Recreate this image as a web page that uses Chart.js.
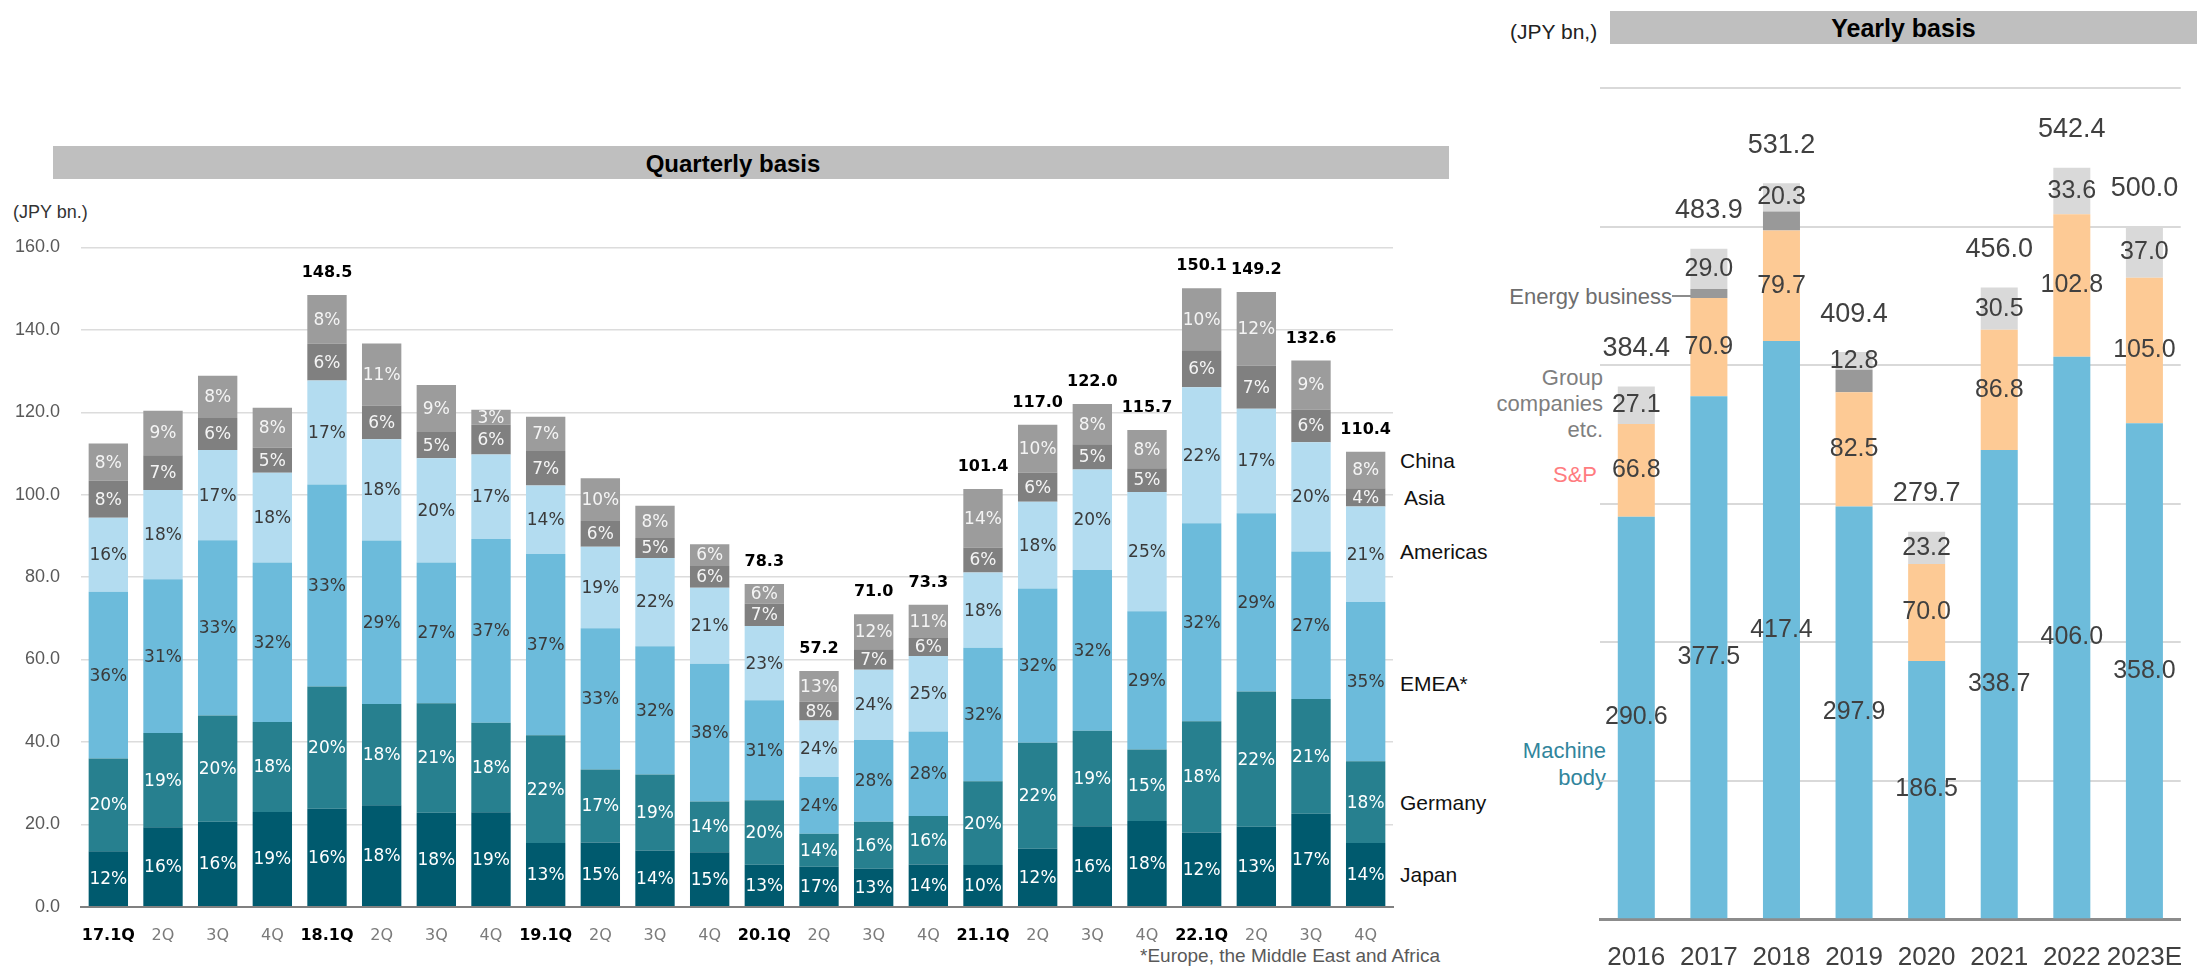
<!DOCTYPE html>
<html>
<head>
<meta charset="utf-8">
<script src="https://cdn.jsdelivr.net/npm/chart.js"></script>
<style>
  html, body { margin: 0; padding: 0; background: #fff; }
  #page { position: relative; width: 2197px; height: 966px; overflow: hidden; font-family: "Liberation Sans", Arial, sans-serif; }
  canvas { position: absolute; top: 0; }
  .t { position: absolute; white-space: nowrap; transform: translateY(-50%); line-height: 1; }
  .band { position: absolute; background: #bfbfbf; text-align: center; font-weight: bold; color: #000; box-sizing: border-box; }
  .r { text-align: right; }
</style>
</head>
<body>
<div id="page">
  <div class="band" style="left:53px;top:146px;width:1396px;height:33px;line-height:35px;font-size:24px;padding-right:36px;">Quarterly basis</div>
  <div class="band" style="left:1610px;top:11px;width:587px;height:33px;line-height:35px;font-size:25px;">Yearly basis</div>
  <div class="t" style="left:13px;top:212px;font-size:18px;color:#333;">(JPY bn.)</div>
  <div class="t" style="left:1510px;top:31px;font-size:21px;color:#222;">(JPY bn,)</div>

  <!-- region names beside the quarterly bars -->
  <div class="t" style="left:1400px;top:460px;font-size:21px;color:#111;">China</div>
  <div class="t" style="left:1404px;top:497px;font-size:21px;color:#111;">Asia</div>
  <div class="t" style="left:1400px;top:551px;font-size:21px;color:#111;">Americas</div>
  <div class="t" style="left:1400px;top:683px;font-size:21px;color:#111;">EMEA*</div>
  <div class="t" style="left:1400px;top:802px;font-size:21px;color:#111;">Germany</div>
  <div class="t" style="left:1400px;top:874px;font-size:21px;color:#111;">Japan</div>
  <div class="t" style="left:1140px;top:955px;font-size:19px;color:#595959;">*Europe, the Middle East and Africa</div>

  <!-- business names beside the yearly bars -->
  <div class="t r" style="left:1472px;width:200px;top:297px;font-size:22px;color:#6e6e6e;">Energy business</div>
  <div style="position:absolute;left:1672px;top:295px;width:32px;border-top:2px solid #8c8c8c;"></div>
  <div class="r" style="position:absolute;left:1403px;width:200px;top:365px;font-size:22px;line-height:26px;color:#7f7f7f;">Group<br>companies<br>etc.</div>
  <div class="t r" style="left:1497px;width:100px;top:475px;font-size:22px;color:#ff7c80;">S&amp;P</div>
  <div class="r" style="position:absolute;left:1406px;width:200px;top:737px;font-size:22px;line-height:27px;color:#31859c;">Machine<br>body</div>

  <canvas id="quarterly" width="1460" height="966" style="left:0;"></canvas>
  <canvas id="yearly" width="737" height="966" style="left:1460px;"></canvas>
</div>
<script>
// Quarterly orders (JPY bn.) and regional shares (%)
var quarters = ['17.1Q', '2Q', '3Q', '4Q', '18.1Q', '2Q', '3Q', '4Q',
                '19.1Q', '2Q', '3Q', '4Q', '20.1Q', '2Q', '3Q', '4Q',
                '21.1Q', '2Q', '3Q', '4Q', '22.1Q', '2Q', '3Q', '4Q'];
var qTotals = [112.4, 120.4, 128.9, 121.1, 148.5, 136.7, 126.6, 120.6,
               118.9, 104.0, 97.3, 88.0, 78.3, 57.2, 71.0, 73.3,
               101.4, 117.0, 122.0, 115.7, 150.1, 149.2, 132.6, 110.4];
var qTotalShown = [false, false, false, false, true, false, false, false,
                   false, false, false, false, true, true, true, true,
                   true, true, true, true, true, true, true, true];
var shareJapan    = [12, 16, 16, 19, 16, 18, 18, 19, 13, 15, 14, 15, 13, 17, 13, 14, 10, 12, 16, 18, 12, 13, 17, 14];
var shareGermany  = [20, 19, 20, 18, 20, 18, 21, 18, 22, 17, 19, 14, 20, 14, 16, 16, 20, 22, 19, 15, 18, 22, 21, 18];
var shareEmea     = [36, 31, 33, 32, 33, 29, 27, 37, 37, 33, 32, 38, 31, 24, 28, 28, 32, 32, 32, 29, 32, 29, 27, 35];
var shareAmericas = [16, 18, 17, 18, 17, 18, 20, 17, 14, 19, 22, 21, 23, 24, 24, 25, 18, 18, 20, 25, 22, 17, 20, 21];
var shareAsia     = [8, 7, 6, 5, 6, 6, 5, 6, 7, 6, 5, 6, 7, 8, 7, 6, 6, 6, 5, 5, 6, 7, 6, 4];
var shareChina    = [8, 9, 8, 8, 8, 11, 9, 3, 7, 10, 8, 6, 6, 13, 12, 11, 14, 10, 8, 8, 10, 12, 9, 8];
var qTicks = [0, 20, 40, 60, 80, 100, 120, 140, 160];

// Yearly orders (JPY bn.)
var years = ['2016', '2017', '2018', '2019', '2020', '2021', '2022', '2023E'];
var machineBody = [290.6, 377.5, 417.4, 297.9, 186.5, 338.7, 406.0, 358.0];
var sAndP       = [66.8, 70.9, 79.7, 82.5, 70.0, 86.8, 102.8, 105.0];
var energy      = [0, 6.5, 13.8, 16.2, 0, 0, 0, 0];
var groupCos    = [27.1, 29.0, 20.3, 12.8, 23.2, 30.5, 33.6, 37.0];
var yTotals     = [384.4, 483.9, 531.2, 409.4, 279.7, 456.0, 542.4, 500.0];

Chart.defaults.font.family = '"Liberation Sans", Arial, sans-serif';
Chart.defaults.animation = false;

var regions = [
  { shares: shareJapan,    color: '#005a6e', text: '#ffffff' },
  { shares: shareGermany,  color: '#27808f', text: '#ffffff' },
  { shares: shareEmea,     color: '#6cbbdb', text: '#3a3a3a' },
  { shares: shareAmericas, color: '#b3dcf0', text: '#3a3a3a' },
  { shares: shareAsia,     color: '#808080', text: '#f4f4f4' },
  { shares: shareChina,    color: '#9c9c9c', text: '#f4f4f4' }
];

var quarterLabels = {
  id: 'quarterLabels',
  afterDatasetsDraw: function(chart) {
    var ctx = chart.ctx;
    var yScale = chart.scales.y;
    ctx.save();
    ctx.textAlign = 'center';
    ctx.textBaseline = 'middle';
    ctx.font = '17px "DejaVu Sans"';
    chart.data.datasets.forEach(function(ds, i) {
      ctx.fillStyle = ds.textColor;
      chart.getDatasetMeta(i).data.forEach(function(bar, j) {
        ctx.fillText(ds.shares[j] + '%', bar.x, (bar.y + bar.base) / 2 + 1);
      });
    });
    ctx.font = 'bold 16px "DejaVu Sans"';
    ctx.fillStyle = '#000';
    chart.getDatasetMeta(0).data.forEach(function(bar, j) {
      if (!qTotalShown[j]) return;
      ctx.fillText(qTotals[j].toFixed(1), bar.x, yScale.getPixelForValue(qTotals[j]) - 22);
    });
    ctx.restore();
  }
};

new Chart(document.getElementById('quarterly'), {
  type: 'bar',
  data: {
    labels: quarters,
    datasets: regions.map(function(r) {
      return {
        data: r.shares.map(function(s, j) { return qTotals[j] * s / 100; }),
        shares: r.shares,
        textColor: r.text,
        backgroundColor: r.color,
        borderWidth: 0,
        categoryPercentage: 1,
        barPercentage: 0.72
      };
    })
  },
  options: {
    responsive: false,
    layout: { padding: { left: 0, top: 247.5, right: 67, bottom: 19.3 } },
    plugins: { legend: { display: false }, tooltip: { enabled: false } },
    scales: {
      x: {
        stacked: true,
        grid: { display: false },
        border: { color: '#808080', width: 2 },
        afterFit: function(scale) { scale.height = 40; },
        ticks: {
          autoSkip: false,
          maxRotation: 0,
          padding: 12,
          color: function(c) { return quarters[c.index].indexOf('.') > 0 ? '#000' : '#7a7a7a'; },
          font: function(c) {
            return quarters[c.index].indexOf('.') > 0
              ? { family: '"DejaVu Sans"', size: 16, weight: 'bold' }
              : { family: '"DejaVu Sans"', size: 16, weight: 'normal' };
          }
        }
      },
      y: {
        stacked: true,
        min: 0,
        max: 160,
        afterFit: function(scale) { scale.width = 81; },
        afterBuildTicks: function(scale) { scale.ticks = qTicks.map(function(v) { return { value: v }; }); },
        border: { display: false },
        grid: {
          drawTicks: false,
          lineWidth: 1.5,
          color: function(c) { return c.tick && c.tick.value === 0 ? 'rgba(0,0,0,0)' : '#dcdcdc'; }
        },
        ticks: {
          padding: 21,
          color: '#595959',
          font: { size: 18 },
          callback: function(v) { return Number(v).toFixed(1); }
        }
      }
    }
  },
  plugins: [quarterLabels]
});

var businesses = [
  { data: machineBody, color: '#6dbcdb', label: true },
  { data: sAndP,       color: '#fdca95', label: true },
  { data: energy,      color: '#999999', label: false },
  { data: groupCos,    color: '#d9d9d9', label: true }
];

var yearLabels = {
  id: 'yearLabels',
  afterDatasetsDraw: function(chart) {
    var ctx = chart.ctx;
    var yScale = chart.scales.y;
    ctx.save();
    ctx.textAlign = 'center';
    ctx.textBaseline = 'middle';
    ctx.fillStyle = '#404040';
    ctx.font = '25px "Liberation Sans"';
    chart.data.datasets.forEach(function(ds, i) {
      if (!ds.showValues) return;
      chart.getDatasetMeta(i).data.forEach(function(bar, j) {
        if (!ds.data[j]) return;
        ctx.fillText(ds.data[j].toFixed(1), bar.x, (bar.y + bar.base) / 2);
      });
    });
    ctx.font = '27px "Liberation Sans"';
    chart.getDatasetMeta(0).data.forEach(function(bar, j) {
      ctx.fillText(yTotals[j].toFixed(1), bar.x, yScale.getPixelForValue(yTotals[j]) - 38);
    });
    ctx.restore();
  }
};

new Chart(document.getElementById('yearly'), {
  type: 'bar',
  data: {
    labels: years,
    datasets: businesses.map(function(b) {
      return {
        data: b.data,
        showValues: b.label,
        backgroundColor: b.color,
        borderWidth: 0,
        categoryPercentage: 1,
        barPercentage: 0.51
      };
    })
  },
  options: {
    responsive: false,
    layout: { padding: { left: 140, top: 88, right: 0, bottom: 0 } },
    plugins: { legend: { display: false }, tooltip: { enabled: false } },
    scales: {
      x: {
        stacked: true,
        grid: { display: false },
        border: { color: '#8c8c8c', width: 3 },
        afterFit: function(scale) { scale.height = 46.7; },
        ticks: { autoSkip: false, maxRotation: 0, padding: 15, color: '#404040', font: { size: 26 } }
      },
      y: {
        stacked: true,
        min: 0,
        max: 600,
        afterFit: function(scale) { scale.width = 0; },
        border: { display: false },
        grid: {
          drawTicks: false,
          lineWidth: 2,
          color: function(c) { return c.tick && c.tick.value === 0 ? 'rgba(0,0,0,0)' : '#d9d9d9'; }
        },
        ticks: { display: false, stepSize: 100 }
      }
    }
  },
  plugins: [yearLabels]
});
</script>
</body>
</html>
